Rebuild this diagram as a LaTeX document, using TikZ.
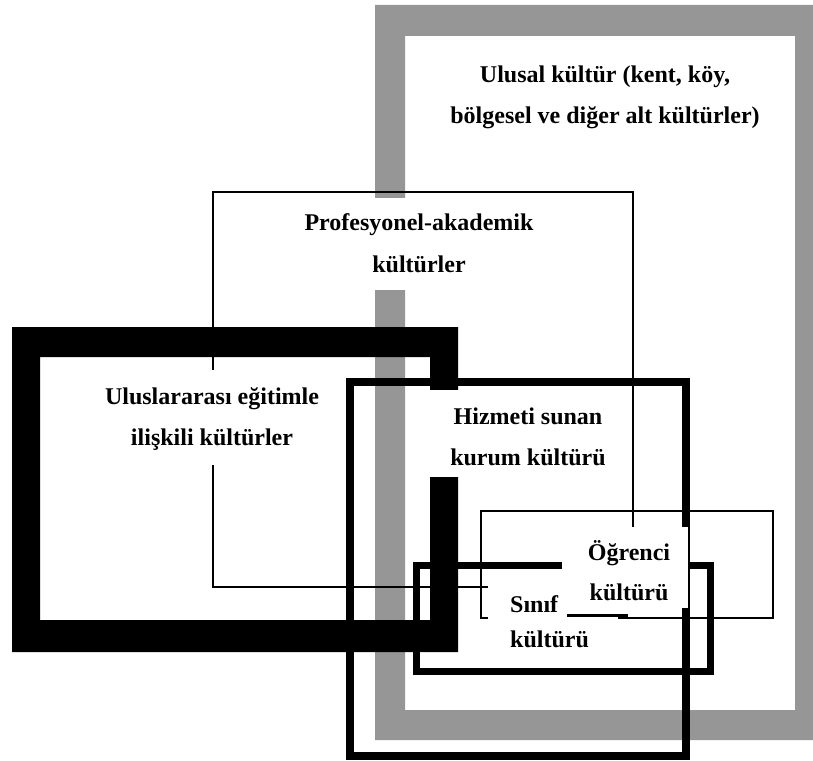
\documentclass[tikz,border=0pt]{standalone}
\usepackage{fontspec}
\setmainfont{Liberation Serif}
\definecolor{grain}{RGB}{150,150,150}
\begin{document}
\begin{tikzpicture}[x=1pt,y=-1pt]
\tikzset{
  lbl/.style={font=\fontsize{24}{41}\selectfont\bfseries, align=center, inner sep=0pt, anchor=base},
  thinframe/.style={draw=black, line width=2pt},
  midframe/.style={draw=black, line width=8pt},
  barframe/.style={draw=black, line width=7pt},
  mask/.style={fill=white, draw=none},
}
\useasboundingbox (0,0) rectangle (813,760);
\fill[white] (0,0) rectangle (813,760);

% national culture: wide grey band
\fill[grain, even odd rule] (375,5) rectangle (813,740) (405,36) rectangle (795,710);

% professional-academic cultures
\draw[thinframe] (213,192) rectangle (633,587);

% international education cultures: heavy black band
\fill[black, even odd rule] (12,327) rectangle (458,652) (40,357) rectangle (430,620);

% institution culture
\draw[midframe] (349.5,382) rectangle (686,755.5);

% student culture
\draw[thinframe] (481,511) rectangle (773,617.5);

% classroom culture
\draw[barframe] (416.5,565) rectangle (710,671.5);

% white grounds behind the labels
\fill[mask] (300,198) rectangle (540,290);
\fill[mask] (100,370) rectangle (325,465);
\fill[mask] (428,390) rectangle (620,477);
\fill[mask] (488,583) rectangle (618,660);
\fill[mask] (562,527) rectangle (688,608);

\draw[line width=3pt] (567,615) -- (628,615);

% labels (anchored at the baseline of the last line)
\node[lbl] (ulusal) at (605,123) {Ulusal kültür (kent, köy,\\bölgesel ve diğer alt kültürler)};
\node[lbl, font=\fontsize{24}{42}\selectfont\bfseries] (prof) at (419,272) {Profesyonel-akademik\\kültürler};
\node[lbl] (ulusl) at (212,445) {Uluslararası eğitimle\\ilişkili kültürler};
\node[lbl] (kurum) at (528,465) {Hizmeti sunan\\kurum kültürü};
\node[lbl, font=\fontsize{24}{40}\selectfont\bfseries] (ogr) at (629,600) {Öğrenci\\kültürü};
\node[lbl, align=left, anchor=base west, font=\fontsize{24}{35}\selectfont\bfseries] (sinif) at (510,647) {Sınıf\\kültürü};
\end{tikzpicture}
\end{document}
